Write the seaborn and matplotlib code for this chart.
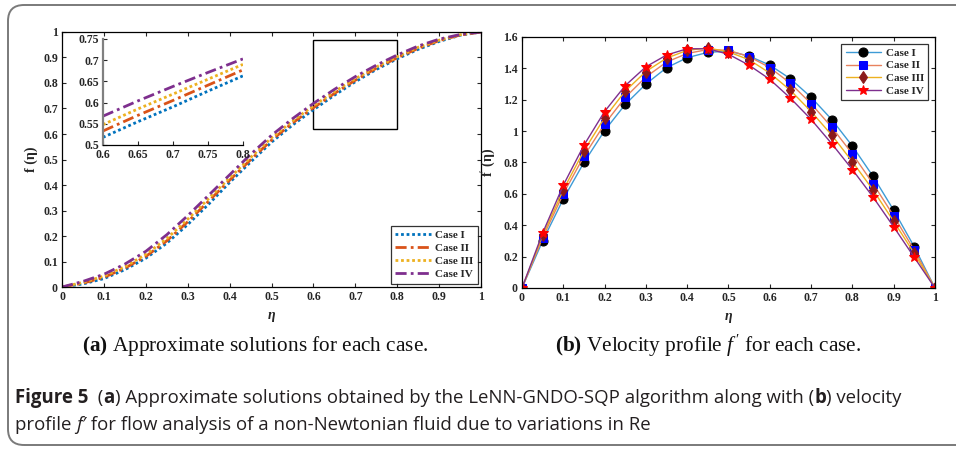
import numpy as np
import pandas as pd
import matplotlib
matplotlib.use("Agg")
import matplotlib.pyplot as plt
import seaborn as sns
from matplotlib.patches import Rectangle, FancyBboxPatch
from matplotlib.transforms import IdentityTransform

# ---- data ----
cases = ["Case I", "Case II", "Case III", "Case IV"]
eta = [0, 0.05, 0.1, 0.15, 0.2, 0.25, 0.3, 0.35, 0.4, 0.45, 0.5,
       0.55, 0.6, 0.65, 0.7, 0.75, 0.8, 0.85, 0.9, 0.95, 1.0]

# (a) f(eta)
f_case1 = [0, .012, .033, .068, .113, .172, .245, .325, .410, .490, .568,
           .635, .695, .752, .805, .853, .895, .932, .963, .987, 1]
f_case2 = [0, .015, .038, .074, .120, .181, .256, .337, .419, .499, .576,
           .643, .703, .759, .811, .858, .899, .936, .966, .988, 1]
f_case3 = [0, .018, .043, .080, .128, .190, .266, .347, .428, .508, .585,
           .651, .711, .766, .817, .863, .903, .940, .968, .989, 1]
f_case4 = [0, .022, .050, .090, .140, .205, .280, .360, .440, .520, .595,
           .660, .720, .775, .825, .870, .910, .945, .972, .990, 1]

# zoomed inset of (a)
eta_zoom = [0.6, 0.65, 0.7, 0.75, 0.8]
zoom_case1 = [.518, .555, .590, .627, .663]
zoom_case2 = [.533, .570, .605, .641, .677]
zoom_case3 = [.548, .585, .620, .655, .690]
zoom_case4 = [.568, .604, .638, .671, .703]

# (b) f'(eta)
fp_case1 = [0, .30, .567, .80, 1.003, 1.17, 1.30, 1.404, 1.468, 1.502, 1.51,
            1.478, 1.421, 1.334, 1.216, 1.074, .905, .712, .496, .262, 0]
fp_case2 = [0, .32, .60, .84, 1.045, 1.215, 1.345, 1.44, 1.495, 1.52, 1.515,
            1.475, 1.405, 1.305, 1.175, 1.025, .855, .665, .46, .24, 0]
fp_case3 = [0, .335, .625, .875, 1.085, 1.255, 1.38, 1.465, 1.515, 1.53, 1.505,
            1.455, 1.37, 1.26, 1.125, .975, .805, .625, .425, .22, 0]
fp_case4 = [0, .35, .655, .91, 1.125, 1.29, 1.41, 1.485, 1.525, 1.525, 1.49,
            1.42, 1.33, 1.21, 1.075, .92, .755, .58, .39, .195, 0]

f_all = [f_case1, f_case2, f_case3, f_case4]
zoom_all = [zoom_case1, zoom_case2, zoom_case3, zoom_case4]
fp_all = [fp_case1, fp_case2, fp_case3, fp_case4]

# ---- styles ----
sns.set_style("ticks")
plt.rcParams["font.family"] = ["Liberation Serif", "DejaVu Serif"]
plt.rcParams["mathtext.fontset"] = "custom"
plt.rcParams["mathtext.rm"] = "Liberation Serif"
plt.rcParams["mathtext.it"] = "Liberation Serif:italic"
plt.rcParams["mathtext.bf"] = "Liberation Serif:bold"

a_colors = ["#0072BD", "#D95319", "#EDB120", "#7E2F8E"]
a_styles = [(0, (1, 1)), (0, (4, 1.5, 1, 1.5)), (0, (1, 1)), (0, (4, 1.5, 1, 1.5))]
b_colors = ["#3E9BD6", "#E8825E", "#EDB120", "#7E2F8E"]
b_markers = ["o", "s", "d", "*"]
b_mcolors = ["#000000", "#0000FF", "#8B1A1A", "#FF0000"]
b_msizes = [6.5, 5.5, 6.5, 7]

tick_font = dict(family="Liberation Serif", weight="bold", size=8.5)


def style_axes(ax):
    ax.tick_params(direction="in", top=True, right=True, length=3, width=0.8,
                   pad=3)
    ax.xaxis.set_major_formatter(matplotlib.ticker.FormatStrFormatter("%g"))
    ax.yaxis.set_major_formatter(matplotlib.ticker.FormatStrFormatter("%g"))
    for lab in ax.get_xticklabels() + ax.get_yticklabels():
        lab.set_fontproperties(matplotlib.font_manager.FontProperties(**tick_font))
    for sp in ax.spines.values():
        sp.set_linewidth(0.9)
        sp.set_color("black")


fig = plt.figure(figsize=(9.56, 4.5), dpi=100)

# ---- panel (a) ----
ax1 = fig.add_axes([0.0649, 0.3622, 0.4383, 0.5667])
for name, vals, c, ls in zip(cases, f_all, a_colors, a_styles):
    df = pd.DataFrame({"eta": eta, "f": vals})
    sns.lineplot(data=df, x="eta", y="f", ax=ax1, color=c, linestyle=ls,
                 linewidth=2, label=name)
ax1.set_xlim(0, 1)
ax1.set_ylim(0, 1)
ax1.set_xticks(np.arange(0, 1.01, 0.1))
ax1.set_yticks(np.arange(0, 1.01, 0.1))
style_axes(ax1)
ax1.set_xlabel("η", fontsize=10, fontweight="bold", fontstyle="italic", labelpad=4)
ax1.set_ylabel("f (η)", fontsize=10, fontweight="bold", labelpad=4)
ax1.add_patch(Rectangle((0.6, 0.62), 0.2, 0.35, fill=False, edgecolor="black",
                        linewidth=1))
leg1 = ax1.legend(loc="lower right", frameon=True, fancybox=False,
                  prop=dict(family="Liberation Serif", weight="bold", size=8),
                  handlelength=3.2, borderpad=0.4, labelspacing=0.3,
                  handletextpad=0.4, borderaxespad=0.3)
leg1.get_frame().set_edgecolor("black")
leg1.get_frame().set_linewidth(0.9)

# inset
axin = fig.add_axes([0.1077, 0.6778, 0.1464, 0.2356])
for name, vals, c, ls in zip(cases, zoom_all, a_colors, a_styles):
    df = pd.DataFrame({"eta": eta_zoom, "f": vals})
    sns.lineplot(data=df, x="eta", y="f", ax=axin, color=c, linestyle=ls,
                 linewidth=2, legend=False)
axin.set_xlim(0.6, 0.8)
axin.set_ylim(0.5, 0.75)
axin.set_xticks(np.arange(0.6, 0.801, 0.05))
axin.set_yticks(np.arange(0.5, 0.751, 0.05))
style_axes(axin)
axin.tick_params(top=False, right=False)
axin.spines["top"].set_visible(False)
axin.spines["right"].set_visible(False)
axin.spines["left"].set_color("#808080")
axin.spines["left"].set_linewidth(1.6)
axin.set_xlabel("")
axin.set_ylabel("")

# ---- panel (b) ----
ax2 = fig.add_axes([0.546, 0.36, 0.432, 0.5578])
for name, vals, c, m, mc, ms in zip(cases, fp_all, b_colors, b_markers,
                                    b_mcolors, b_msizes):
    df = pd.DataFrame({"eta": eta, "fp": vals})
    sns.lineplot(data=df, x="eta", y="fp", ax=ax2, color=c, linewidth=1,
                 marker=m, markersize=ms, markerfacecolor=mc,
                 markeredgecolor=mc, label=name)
ax2.set_xlim(0, 1)
ax2.set_ylim(0, 1.6)
ax2.set_xticks(np.arange(0, 1.01, 0.1))
ax2.set_yticks(np.arange(0, 1.61, 0.2))
style_axes(ax2)
ax2.set_xlabel("η", fontsize=10, fontweight="bold", fontstyle="italic", labelpad=4)
ax2.set_ylabel(r"f$^{\prime}$ (η)", fontsize=10, fontweight="bold", labelpad=4)
leg2 = ax2.legend(loc="upper right", frameon=True, fancybox=False,
                  prop=dict(family="Liberation Serif", weight="bold", size=8),
                  handlelength=3.2, borderpad=0.4, labelspacing=0.25,
                  handletextpad=0.4, borderaxespad=0.6)
leg2.get_frame().set_edgecolor("black")
leg2.get_frame().set_linewidth(0.9)

# ---- sub-captions ----
fig.text(0.267, 0.232, r"$\mathbf{(a)}$ Approximate solutions for each case.",
         ha="center", va="center", fontsize=15.3, color="#111111")
fig.text(0.7405, 0.232, r"$\mathbf{(b)}$ Velocity profile $f\,'$ for each case.",
         ha="center", va="center", fontsize=15.3, color="#111111")

# ---- figure caption (sans, mixed weights) ----
renderer = fig.canvas.get_renderer()
cap_font = ["Open Sans", "DejaVu Sans"]
cap_size = 13.4
cap_color = "#231f20"


def draw_runs(x, y, runs):
    for s, st in runs:
        t = fig.text(x, y, s, transform=IdentityTransform(), family=cap_font,
                     fontsize=cap_size, color=cap_color, va="baseline", **st)
        x = t.get_window_extent(renderer).x1


reg, bold, ital = {}, {"weight": "bold"}, {"style": "italic"}
draw_runs(15, 450 - 403, [("Figure 5", bold), ("  (", reg), ("a", bold),
                          (") Approximate solutions obtained by the LeNN-GNDO-SQP "
                           "algorithm along with (", reg), ("b", bold),
                          (") velocity", reg)])
draw_runs(15, 450 - 430, [("profile ", reg), ("f′", ital),
                          (" for flow analysis of a non-Newtonian fluid due to "
                           "variations in Re", reg)])

# outer rounded frame
frame = FancyBboxPatch((8, 5), 970, 440, boxstyle="round,pad=0,rounding_size=16",
                       transform=IdentityTransform(), fill=False,
                       edgecolor="#7a7a7a", linewidth=1.4)
fig.add_artist(frame)

fig.savefig("out.png", dpi=100)
